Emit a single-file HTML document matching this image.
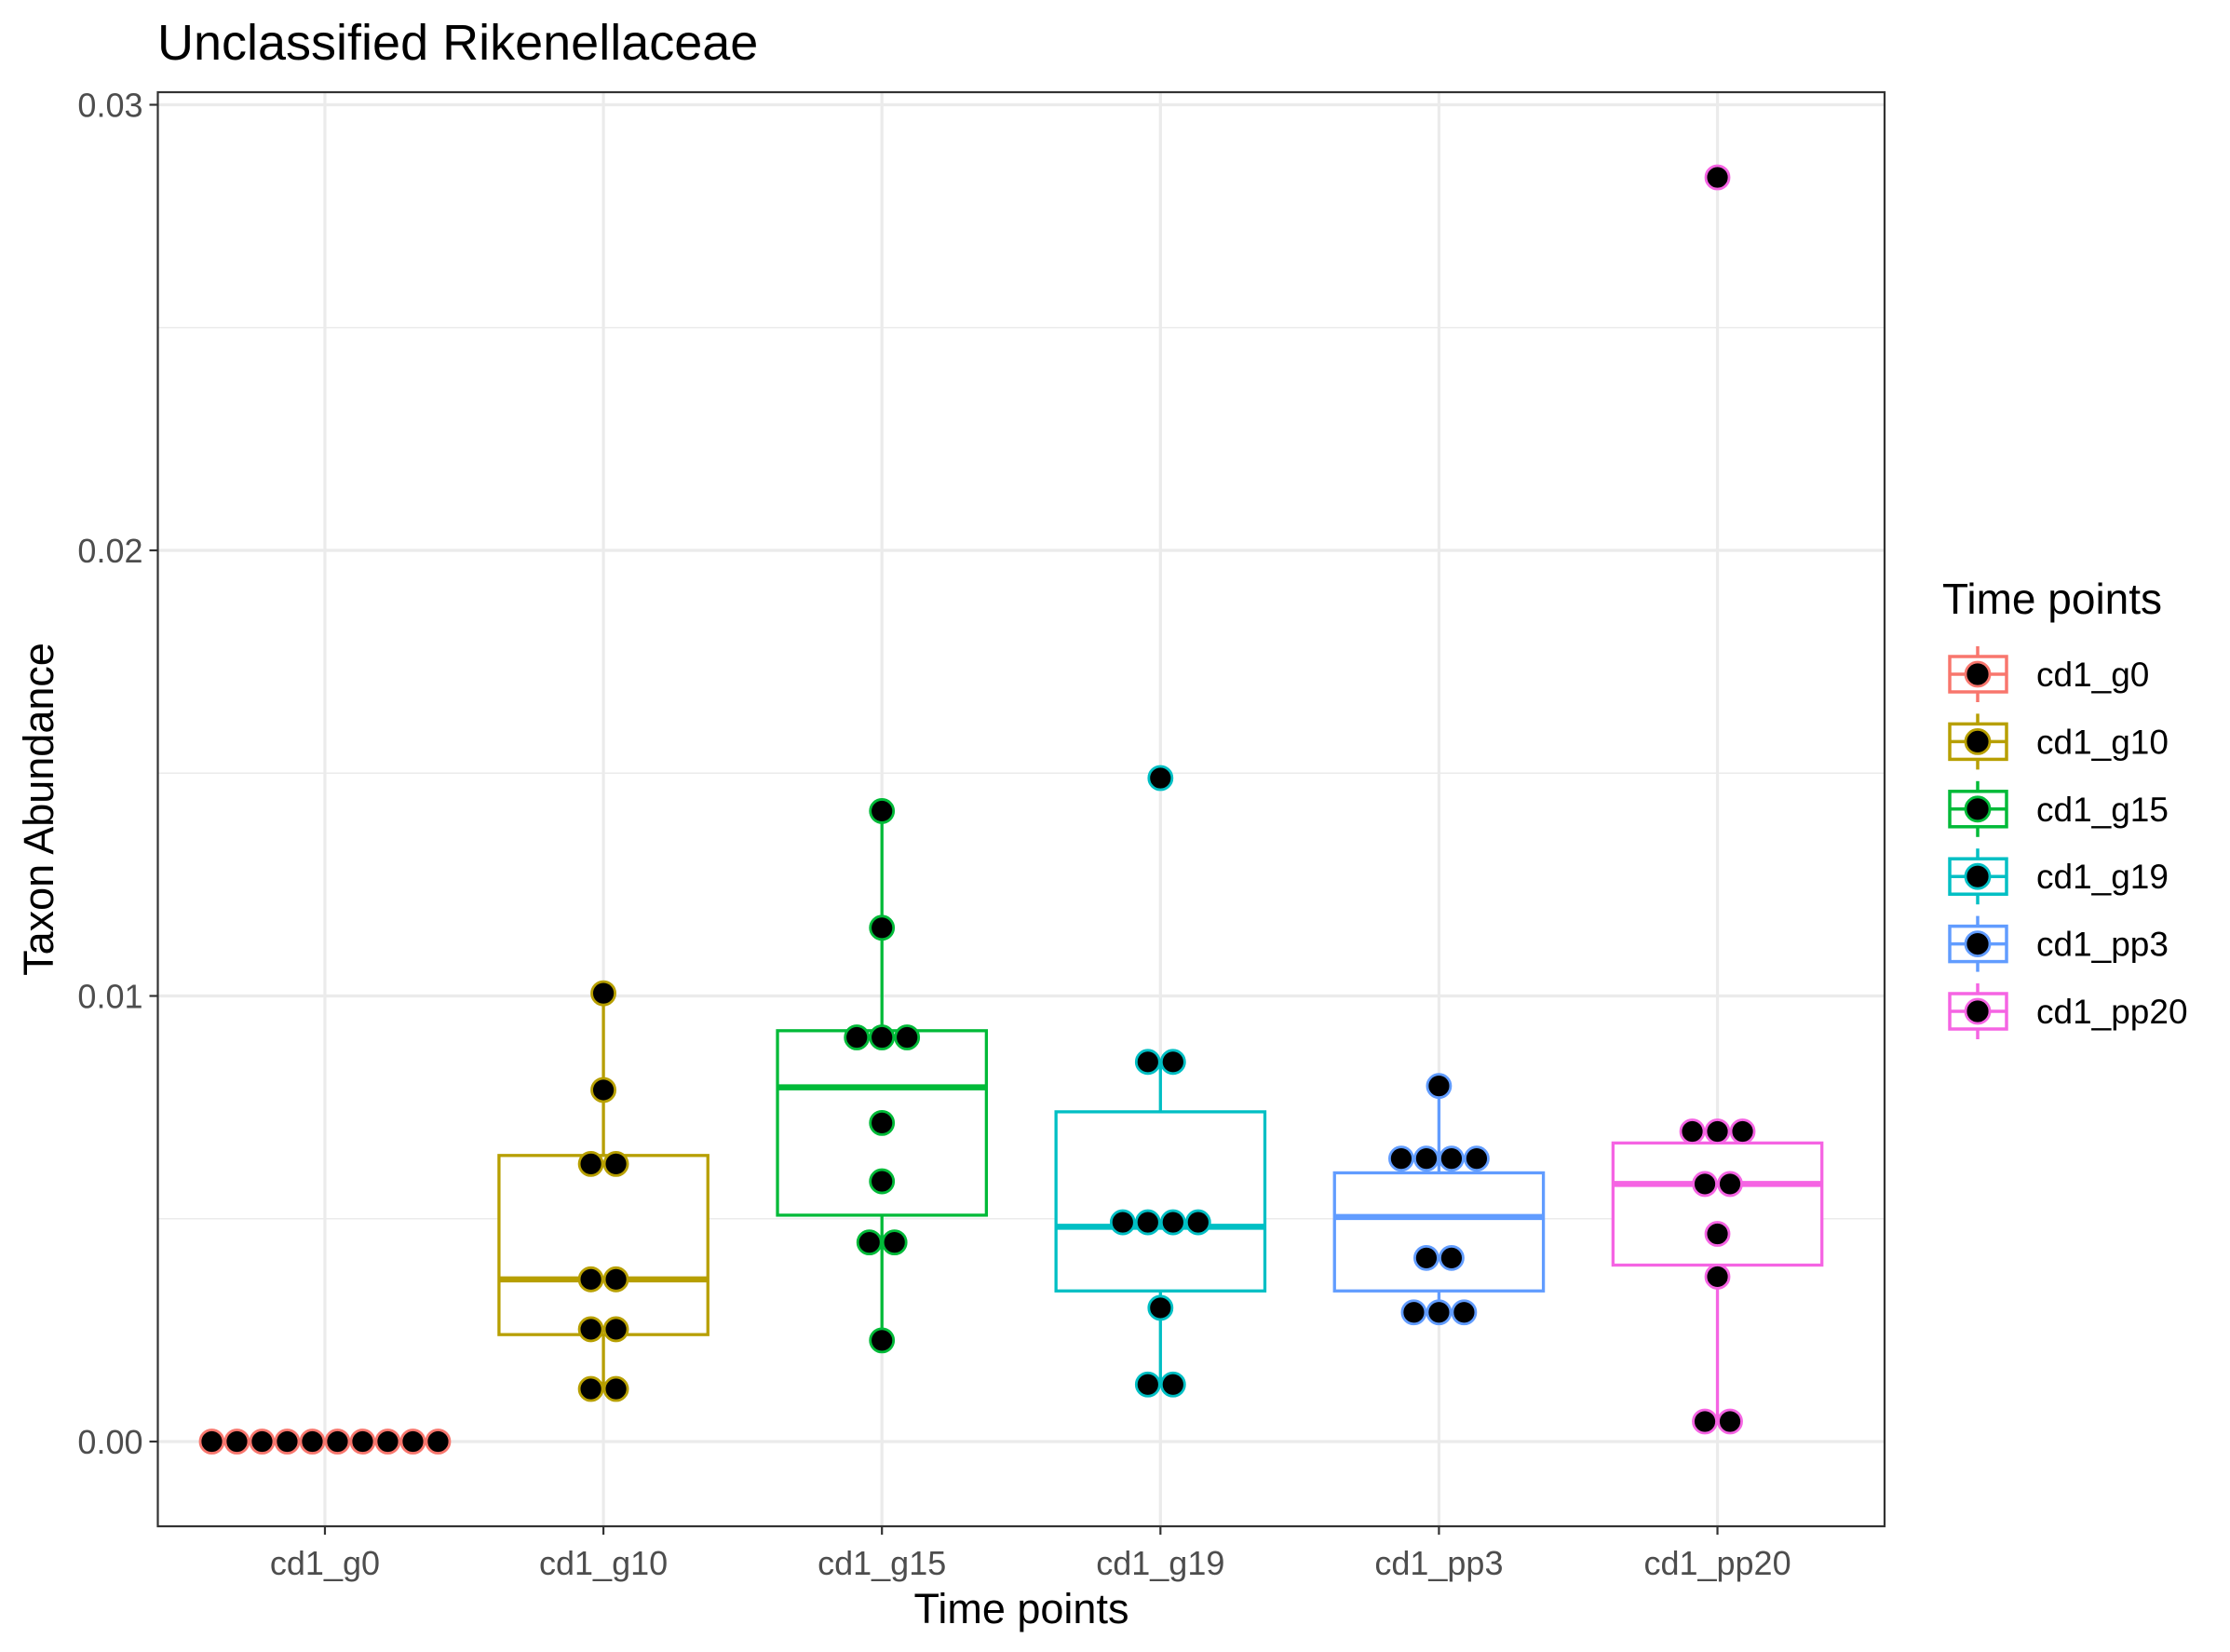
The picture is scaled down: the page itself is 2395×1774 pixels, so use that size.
<!DOCTYPE html>
<html><head><meta charset="utf-8"><style>
html,body{margin:0;padding:0;background:#fff}
svg{display:block;font-family:"Liberation Sans",Arial,sans-serif}
</style></head><body>
<svg id="chart" width="2395" height="1774" viewBox="0 0 2395 1774" xmlns="http://www.w3.org/2000/svg">
<rect width="2395" height="1774" fill="#fff"/>
<text x="169" y="64" font-size="54" fill="#000">Unclassified Rikenellaceae</text>
<g id="plot"></g>
<text x="1097" y="1743" font-size="45" text-anchor="middle" fill="#000">Time points</text>
<text transform="translate(57,869) rotate(-90)" font-size="45" text-anchor="middle" fill="#000">Taxon Abundance</text>
<g id="legend"></g>
</svg>
<script>
const categories = ["cd1_g0","cd1_g10","cd1_g15","cd1_g19","cd1_pp3","cd1_pp20"];
const colors = ["#F8766D","#B79F00","#00BA38","#00BFC4","#619CFF","#F564E3"];
const yTicks = [0, 0.01, 0.02, 0.03];
const yTickLabels = ["0.00","0.01","0.02","0.03"];
const yMinor = [0.005, 0.015, 0.025];
// box stats: lower whisker, q1, median, q3, upper whisker
const whiskLow = [0, 0.00118, 0.00227, 0.00128, 0.0029, 0.00045];
const q1 = [0, 0.0024, 0.00508, 0.00338, 0.00338, 0.00396];
const median = [0, 0.00364, 0.00795, 0.00482, 0.00504, 0.00578];
const q3 = [0, 0.00642, 0.00922, 0.0074, 0.00603, 0.0067];
const whiskHigh = [0, 0.01006, 0.01415, 0.00852, 0.00798, 0.00696];
// dot values (each group's points; equal values stack side by side)
const ptsG0 = [0,0,0,0,0,0,0,0,0,0];
const ptsG10 = [0.01006,0.00789,0.00623,0.00623,0.00364,0.00364,0.00252,0.00252,0.00118,0.00118];
const ptsG15 = [0.01415,0.01153,0.00907,0.00907,0.00907,0.00715,0.00584,0.00447,0.00447,0.00227];
const ptsG19 = [0.01489,0.00852,0.00852,0.00492,0.00492,0.00492,0.00492,0.003,0.00128,0.00128];
const ptsPP3 = [0.00798,0.00635,0.00635,0.00635,0.00635,0.00412,0.00412,0.0029,0.0029,0.0029];
const ptsPP20 = [0.02837,0.00696,0.00696,0.00696,0.00578,0.00578,0.00466,0.0037,0.00045,0.00045];
const points = [ptsG0, ptsG10, ptsG15, ptsG19, ptsPP3, ptsPP20];

const NS = "http://www.w3.org/2000/svg";
const L = 169.5, R = 2024, T = 99, B = 1639;
const step = (R - L) / 6.2;
function xScale(i){ return L + (i + 0.6) * step; }
function yScale(v){ return 1548 - v * 47850; }
function mk(parent, tag, attrs){
  const e = document.createElementNS(NS, tag);
  for (const k in attrs) e.setAttribute(k, attrs[k]);
  parent.appendChild(e);
  return e;
}
const plot = document.getElementById("plot");
yMinor.forEach(v => {
  const l = mk(plot, "line", {x1:L, x2:R, y1:yScale(v), y2:yScale(v), stroke:"#EBEBEB", "stroke-width":1.6});
  
  
});
yTicks.forEach(v => {
  const l = mk(plot, "line", {x1:L, x2:R, y1:yScale(v), y2:yScale(v), stroke:"#EBEBEB", "stroke-width":3.2});
  
  
});
categories.forEach((c, i) => {
  const l = mk(plot, "line", {x1:xScale(i), x2:xScale(i), y1:T, y2:B, stroke:"#EBEBEB", "stroke-width":3.2});
  
  
});
const hw = 0.375 * step;
categories.forEach((c, i) => {
  const g = mk(plot, "g", {stroke:colors[i], fill:"none"});
  
  
  const x = xScale(i);
  mk(g, "line", {x1:x, x2:x, y1:yScale(q3[i]), y2:yScale(whiskHigh[i]), "stroke-width":3.3});
  mk(g, "line", {x1:x, x2:x, y1:yScale(q1[i]), y2:yScale(whiskLow[i]), "stroke-width":3.3});
  mk(g, "rect", {x:x-hw, y:yScale(q3[i]), width:2*hw, height:Math.max(0, yScale(q1[i]) - yScale(q3[i])), "stroke-width":3.3, fill:"#fff"});
  const m = mk(g, "line", {x1:x-hw, x2:x+hw, y1:yScale(median[i]), y2:yScale(median[i]), "stroke-width":6.5});
  
  
});
const dotSp = 27;
points.forEach((arr, i) => {
  const groups = {};
  arr.forEach(v => { groups[v] = (groups[v] || 0) + 1; });
  Object.keys(groups).forEach(k => {
    const n = groups[k], v = parseFloat(k);
    for (let j = 0; j < n; j++) {
      const cx = xScale(i) + (j - (n - 1) / 2) * dotSp;
      const d = mk(plot, "circle", {cx:cx, cy:yScale(v), r:12.5, fill:"#000", stroke:colors[i], "stroke-width":2.8});
      
      
    }
  });
});
const border = mk(plot, "rect", {x:L, y:T, width:R-L, height:B-T, fill:"none", stroke:"#333", "stroke-width":2.2});


yTicks.forEach((v, k) => {
  const t = mk(plot, "line", {x1:L-9, x2:L, y1:yScale(v), y2:yScale(v), stroke:"#333", "stroke-width":2.2});
  
  
  const lb = mk(plot, "text", {x:L-16, y:yScale(v)+13, "font-size":36, "text-anchor":"end", fill:"#4D4D4D"});
  lb.textContent = yTickLabels[k];
  
  
});
categories.forEach((c, i) => {
  const t = mk(plot, "line", {x1:xScale(i), x2:xScale(i), y1:B, y2:B+9, stroke:"#333", "stroke-width":2.2});
  
  
  const lb = mk(plot, "text", {x:xScale(i), y:1691, "font-size":36, "text-anchor":"middle", fill:"#4D4D4D"});
  lb.textContent = c;
  
  
});
const leg = document.getElementById("legend");


const lt = mk(leg, "text", {x:2086, y:659, "font-size":46, fill:"#000"});
lt.textContent = "Time points";


categories.forEach((c, i) => {
  const cy = 724 + i * 72.4;
  const g = mk(leg, "g", {});
  
  
  mk(g, "line", {x1:2124, x2:2124, y1:cy-30, y2:cy+30, stroke:colors[i], "stroke-width":3.5});
  mk(g, "rect", {x:2094, y:cy-19, width:61, height:38, fill:"#fff", stroke:colors[i], "stroke-width":3.5});
  mk(g, "line", {x1:2094, x2:2155, y1:cy, y2:cy, stroke:colors[i], "stroke-width":3.5});
  mk(g, "circle", {cx:2124, cy:cy, r:13, fill:"#000", stroke:colors[i], "stroke-width":2.8});
  const tx = mk(g, "text", {x:2187, y:cy+13, "font-size":37, fill:"#000"});
  tx.textContent = c;
});
</script>
</body></html>
